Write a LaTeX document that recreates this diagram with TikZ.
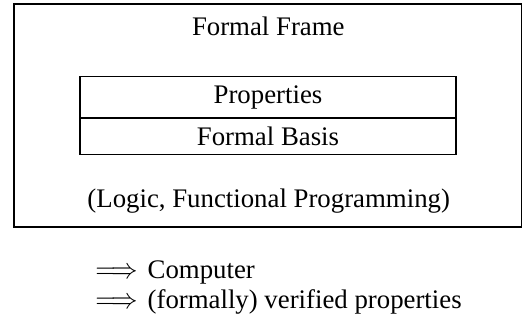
\documentclass[tikz,border=0pt]{standalone}
\usepackage{fontspec}
\setmainfont{Liberation Serif}
\newcommand{\myarrow}{\scalebox{0.92}[1]{$\Longrightarrow$}\hspace{5pt}}
\begin{document}
\begin{tikzpicture}[x=0.5pt,y=-0.5pt,
  txt/.style={font=\fontsize{13.4}{16}\selectfont, inner sep=0pt},
  layer/.style={draw, line width=0.7pt, minimum width=188pt, inner sep=4.3pt,
    font=\fontsize{13.4}{16}\selectfont},
  framebox/.style={draw, line width=0.7pt, minimum width=253.85pt, minimum height=111.5pt, inner sep=0pt}]
\useasboundingbox (0,0) rectangle (523,322);
\node[framebox] (frame) at (267.85,115.5) {};
\node[txt, anchor=base] (title) at (268.3,35) {Formal Frame};
\node[layer, anchor=south] (props) at (268,118) {Properties};
\node[layer, anchor=north] (basis) at (props.south) {Formal Basis};
\node[txt, anchor=base] (logic) at (268.7,207.5) {(Logic, Functional Programming)};
\node[txt, anchor=base west] (comp) at (95,278) {\myarrow Computer};
\node[txt, anchor=base west] (verif) at (95,308.5) {\myarrow (formally) verified properties};
\end{tikzpicture}
\end{document}
